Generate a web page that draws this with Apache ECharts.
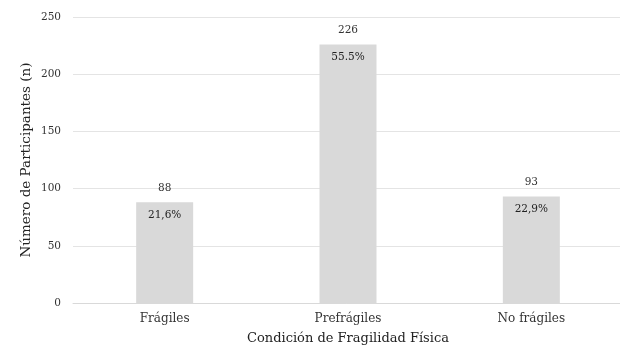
<!DOCTYPE html>
<html><head><meta charset="utf-8">
<script src="https://cdn.jsdelivr.net/npm/echarts@6/dist/echarts.min.js"></script>
<style>html,body{margin:0;padding:0;background:#fff}#c{width:620px;height:348px}</style>
</head><body><div id="c"></div>
<script>
var categories = ['Frágiles', 'Prefrágiles', 'No frágiles'];
var counts = [88, 226, 93];
var percents = ['21,6%', '55.5%', '22,9%'];
var yTicks = [0, 50, 100, 150, 200, 250];

var font = 'DejaVu Serif';
var chart = echarts.init(document.getElementById('c'));
chart.setOption({
  animation: false,
  grid: { left: 73, right: -3, top: 17, bottom: 45, outerBoundsMode: 'none', containLabel: false },
  xAxis: {
    type: 'category', data: categories,
    name: 'Condición de Fragilidad Física', nameLocation: 'middle', nameGap: 29, nameMoveOverlap: false,
    nameTextStyle: { fontFamily: font, fontSize: 13, color: '#222' },
    axisLine: { lineStyle: { color: '#d9d9d9' } },
    axisTick: { show: false },
    axisLabel: { fontFamily: font, fontSize: 12, color: '#333', margin: 10 }
  },
  yAxis: {
    type: 'value', min: yTicks[0], max: yTicks[yTicks.length - 1], interval: 50,
    name: 'Número de Participantes (n)', nameLocation: 'middle', nameGap: 40, nameMoveOverlap: false,
    nameTextStyle: { fontFamily: font, fontSize: 13.5, color: '#222' },
    axisLine: { show: false }, axisTick: { show: false },
    axisLabel: { fontFamily: font, fontSize: 10.5, color: '#333', margin: 12 },
    splitLine: { lineStyle: { color: '#e4e4e4' } }
  },
  series: [
    {
      type: 'bar', data: counts, barWidth: 57,
      itemStyle: { color: '#d9d9d9' },
      label: { show: true, position: 'top', distance: 9, fontFamily: font, fontSize: 10.5, color: '#333' }
    },
    {
      type: 'bar', data: counts, barWidth: 57, barGap: '-100%',
      itemStyle: { color: 'rgba(0,0,0,0)' },
      label: { show: true, position: 'insideTop', distance: 7, fontFamily: font, fontSize: 10.5, color: '#222',
        formatter: function (p) { return percents[p.dataIndex]; } }
    }
  ]
});
</script></body></html>
